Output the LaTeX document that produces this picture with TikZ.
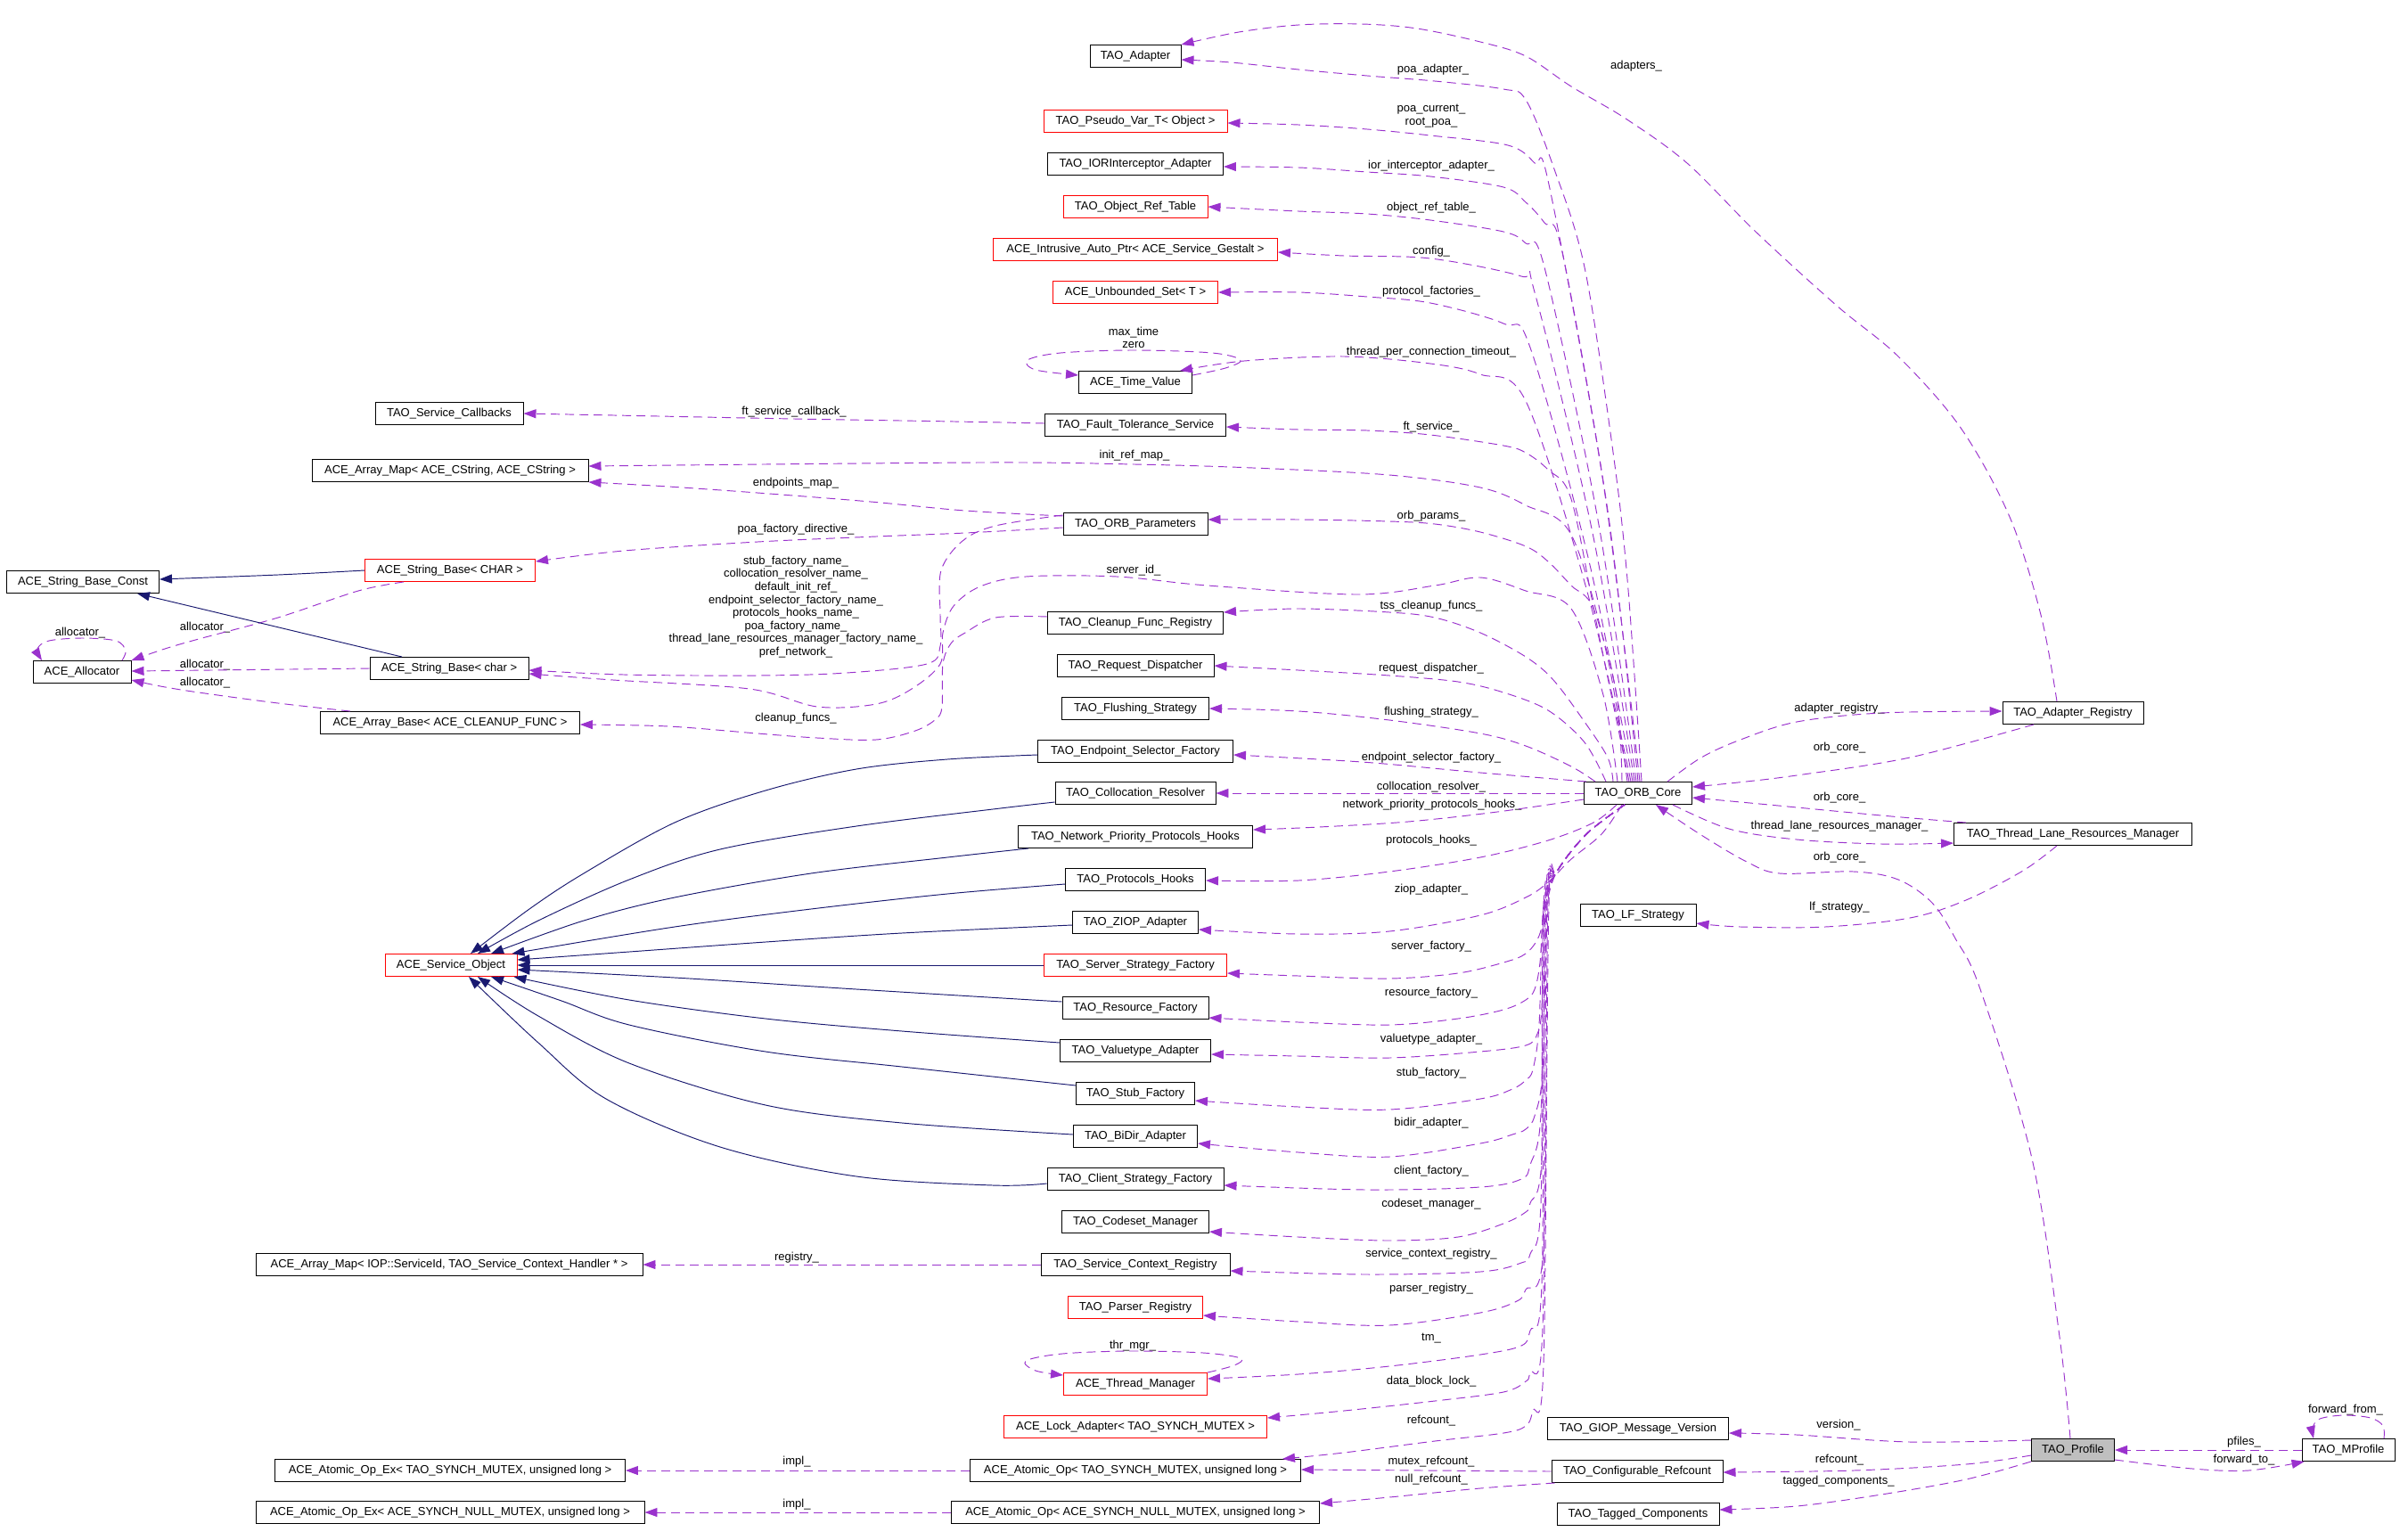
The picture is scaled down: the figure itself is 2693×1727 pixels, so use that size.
\documentclass[tikz,border=0pt]{standalone}
\usepackage{fontspec}
\setmainfont{Liberation Sans}
\usetikzlibrary{arrows.meta}
\definecolor{purp}{HTML}{9A32CD}
\definecolor{navyb}{HTML}{191970}
\definecolor{profgray}{HTML}{BFBFBF}
\newcommand\lblfont{\fontsize{13}{14.6}\selectfont}
\begin{document}
\begin{tikzpicture}[x=1pt,y=-1pt,
  cls/.style={draw=black, line width=0.95pt, fill=white, minimum height=25pt, inner sep=2pt, font=\lblfont},
  rcls/.style={cls, draw=red},
  lab/.style={font=\lblfont, inner sep=0pt, align=center},
  rel/.style={draw=purp, line width=0.95pt, dash pattern=on 10pt off 6pt, -{Triangle[length=14pt,width=10pt]}},
  inh/.style={draw=navyb, line width=0.95pt, -{Triangle[length=14pt,width=10pt]}},
  sm/.style={smooth, tension=0.55}]
\fill[white] (0,0) rectangle (2693,1727);
\useasboundingbox (0,0) rectangle (2693,1727);

% ---------------- nodes
\node[cls, minimum width=102pt] (adapter) at (1274,63) {TAO\_Adapter};
\node[rcls, minimum width=206pt] (pseudo) at (1274,136) {TAO\_Pseudo\_Var\_T< Object >};
\node[cls, minimum width=197pt] (ior) at (1274,184) {TAO\_IORInterceptor\_Adapter};
\node[rcls, minimum width=162pt] (objref) at (1274,232) {TAO\_Object\_Ref\_Table};
\node[rcls, minimum width=319pt] (intrusive) at (1274,280) {ACE\_Intrusive\_Auto\_Ptr< ACE\_Service\_Gestalt >};
\node[rcls, minimum width=185pt] (unbounded) at (1274,328) {ACE\_Unbounded\_Set< T >};
\node[cls, minimum width=127pt] (timevalue) at (1274,429) {ACE\_Time\_Value};
\node[cls, minimum width=203pt] (ftservice) at (1274,477) {TAO\_Fault\_Tolerance\_Service};
\node[cls, minimum width=166pt] (callbacks) at (504,464) {TAO\_Service\_Callbacks};
\node[cls, minimum width=310pt] (arraymap1) at (505,528) {ACE\_Array\_Map< ACE\_CString, ACE\_CString >};
\node[cls, minimum width=162pt] (orbparams) at (1274,588) {TAO\_ORB\_Parameters};
\node[rcls, minimum width=191pt] (sbCHAR) at (505,640) {ACE\_String\_Base< CHAR >};
\node[cls, minimum width=171pt] (sbconst) at (93,653) {ACE\_String\_Base\_Const};
\node[cls, minimum width=110pt] (allocator) at (92,754) {ACE\_Allocator};
\node[cls, minimum width=178pt] (sbchar) at (504,750) {ACE\_String\_Base< char >};
\node[cls, minimum width=291pt] (arraybase) at (505,811) {ACE\_Array\_Base< ACE\_CLEANUP\_FUNC >};
\node[cls, minimum width=197pt] (cleanup) at (1274,699) {TAO\_Cleanup\_Func\_Registry};
\node[cls, minimum width=176pt] (reqdisp) at (1274,747) {TAO\_Request\_Dispatcher};
\node[cls, minimum width=165pt] (flushing) at (1274,795) {TAO\_Flushing\_Strategy};
\node[cls, minimum width=219pt] (endpoint) at (1274,843) {TAO\_Endpoint\_Selector\_Factory};
\node[cls, minimum width=180pt] (colloc) at (1274,890) {TAO\_Collocation\_Resolver};
\node[cls, minimum width=121pt] (core) at (1838,890) {TAO\_ORB\_Core};
\node[cls, minimum width=263pt] (netprio) at (1274,939) {TAO\_Network\_Priority\_Protocols\_Hooks};
\node[cls, minimum width=157pt] (prothooks) at (1274,987) {TAO\_Protocols\_Hooks};
\node[cls, minimum width=141pt] (ziop) at (1274,1035) {TAO\_ZIOP\_Adapter};
\node[rcls, minimum width=205pt] (serverstrat) at (1274,1083) {TAO\_Server\_Strategy\_Factory};
\node[cls, minimum width=164pt] (resource) at (1274,1131) {TAO\_Resource\_Factory};
\node[cls, minimum width=169pt] (valuetype) at (1274,1179) {TAO\_Valuetype\_Adapter};
\node[cls, minimum width=133pt] (stub) at (1274,1227) {TAO\_Stub\_Factory};
\node[cls, minimum width=139pt] (bidir) at (1274,1275) {TAO\_BiDir\_Adapter};
\node[cls, minimum width=198pt] (clientstrat) at (1274,1323) {TAO\_Client\_Strategy\_Factory};
\node[cls, minimum width=165pt] (codeset) at (1274,1371) {TAO\_Codeset\_Manager};
\node[cls, minimum width=212pt] (svcctx) at (1274,1419) {TAO\_Service\_Context\_Registry};
\node[cls, minimum width=434pt] (arraymap2) at (504,1419) {ACE\_Array\_Map< IOP::ServiceId, TAO\_Service\_Context\_Handler * >};
\node[rcls, minimum width=151pt] (parser) at (1274,1467) {TAO\_Parser\_Registry};
\node[rcls, minimum width=161pt] (thrmgr) at (1274,1553) {ACE\_Thread\_Manager};
\node[rcls, minimum width=295pt] (lockadapter) at (1274,1601) {ACE\_Lock\_Adapter< TAO\_SYNCH\_MUTEX >};
\node[cls, minimum width=371pt] (atomicTAO) at (1274,1650) {ACE\_Atomic\_Op< TAO\_SYNCH\_MUTEX, unsigned long >};
\node[cls, minimum width=413pt] (atomicNULL) at (1274,1697) {ACE\_Atomic\_Op< ACE\_SYNCH\_NULL\_MUTEX, unsigned long >};
\node[cls, minimum width=393pt] (atomicexTAO) at (505,1650) {ACE\_Atomic\_Op\_Ex< TAO\_SYNCH\_MUTEX, unsigned long >};
\node[cls, minimum width=436pt] (atomicexNULL) at (505,1697) {ACE\_Atomic\_Op\_Ex< ACE\_SYNCH\_NULL\_MUTEX, unsigned long >};
\node[rcls, minimum width=148pt] (serviceobj) at (506,1083) {ACE\_Service\_Object};
\node[cls, minimum width=158pt] (adapterreg) at (2326,800) {TAO\_Adapter\_Registry};
\node[cls, minimum width=267pt] (tlrm) at (2326,936) {TAO\_Thread\_Lane\_Resources\_Manager};
\node[cls, minimum width=130pt] (lfstrategy) at (1838,1027) {TAO\_LF\_Strategy};
\node[cls, minimum width=203pt] (giop) at (1838,1603) {TAO\_GIOP\_Message\_Version};
\node[cls, minimum width=192pt] (confrefcount) at (1837,1651) {TAO\_Configurable\_Refcount};
\node[cls, minimum width=182pt] (tagged) at (1838,1699) {TAO\_Tagged\_Components};
\node[cls, fill=profgray, minimum width=93pt] (profile) at (2326,1627) {TAO\_Profile};
\node[cls, minimum width=104pt] (mprofile) at (2635,1627) {TAO\_MProfile};

% ---------------- labels
\node[lab] (Lpoaad) at (1608,78) {poa\_adapter\_};
\node[lab] (Ladapters) at (1836,74) {adapters\_};
\node[lab] (Lpoacur) at (1606,130) {poa\_current\_\\root\_poa\_};
\node[lab] (Lior) at (1606,186) {ior\_interceptor\_adapter\_};
\node[lab] (Lobjref) at (1606,233) {object\_ref\_table\_};
\node[lab] (Lconfig) at (1606,282) {config\_};
\node[lab] (Lprotfac) at (1606,327) {protocol\_factories\_};
\node[lab] (Lmaxtime) at (1272,379) {max\_time\\zero};
\node[lab] (Ltpct) at (1606,395) {thread\_per\_connection\_timeout\_};
\node[lab] (Lftsvc) at (1606,479) {ft\_service\_};
\node[lab] (Lftcb) at (891,462) {ft\_service\_callback\_};
\node[lab] (Linitref) at (1273,511) {init\_ref\_map\_};
\node[lab] (Lendmap) at (893,542) {endpoints\_map\_};
\node[lab] (Lorbparams) at (1606,579) {orb\_params\_};
\node[lab] (Lpoafd) at (893,594) {poa\_factory\_directive\_};
\node[lab] (Lnames) at (893,681) {stub\_factory\_name\_\\collocation\_resolver\_name\_\\default\_init\_ref\_\\endpoint\_selector\_factory\_name\_\\protocols\_hooks\_name\_\\poa\_factory\_name\_\\thread\_lane\_resources\_manager\_factory\_name\_\\pref\_network\_};
\node[lab] (Lserverid) at (1272,640) {server\_id\_};
\node[lab] (Ltss) at (1606,680) {tss\_cleanup\_funcs\_};
\node[lab] (Lalloc0) at (90,710) {allocator\_};
\node[lab] (Lalloc1) at (230,704) {allocator\_};
\node[lab] (Lalloc2) at (230,746) {allocator\_};
\node[lab] (Lalloc3) at (230,766) {allocator\_};
\node[lab] (Lreqd) at (1606,750) {request\_dispatcher\_};
\node[lab] (Lflush) at (1606,799) {flushing\_strategy\_};
\node[lab] (Lcleanup) at (893,806) {cleanup\_funcs\_};
\node[lab] (Lendsel) at (1606,850) {endpoint\_selector\_factory\_};
\node[lab] (Lcolloc) at (1606,883) {collocation\_resolver\_};
\node[lab] (Lnetprio) at (1607,903) {network\_priority\_protocols\_hooks\_};
\node[lab] (Lprothooks) at (1606,943) {protocols\_hooks\_};
\node[lab] (Lziop) at (1606,998) {ziop\_adapter\_};
\node[lab] (Lserverf) at (1606,1062) {server\_factory\_};
\node[lab] (Lresf) at (1606,1114) {resource\_factory\_};
\node[lab] (Lvalue) at (1606,1166) {valuetype\_adapter\_};
\node[lab] (Lstubf) at (1606,1204) {stub\_factory\_};
\node[lab] (Lbidir) at (1606,1260) {bidir\_adapter\_};
\node[lab] (Lclientf) at (1606,1314) {client\_factory\_};
\node[lab] (Lcodeset) at (1606,1351) {codeset\_manager\_};
\node[lab] (Lsvcctx) at (1606,1407) {service\_context\_registry\_};
\node[lab] (Lregistry) at (894,1411) {registry\_};
\node[lab] (Lparser) at (1606,1446) {parser\_registry\_};
\node[lab] (Ltm) at (1606,1502) {tm\_};
\node[lab] (Lthrmgr) at (1271,1510) {thr\_mgr\_};
\node[lab] (Ldbl) at (1606,1550) {data\_block\_lock\_};
\node[lab] (Lrefcount) at (1606,1594) {refcount\_};
\node[lab] (Lmutexrc) at (1606,1640) {mutex\_refcount\_};
\node[lab] (Lnullrc) at (1606,1660) {null\_refcount\_};
\node[lab] (Limpl1) at (894,1640) {impl\_};
\node[lab] (Limpl2) at (894,1688) {impl\_};
\node[lab] (Ladreg) at (2064,795) {adapter\_registry\_};
\node[lab] (Lorbcore1) at (2064,839) {orb\_core\_};
\node[lab] (Lorbcore2) at (2064,895) {orb\_core\_};
\node[lab] (Ltlrm) at (2064,927) {thread\_lane\_resources\_manager\_};
\node[lab] (Lorbcore3) at (2064,962) {orb\_core\_};
\node[lab] (Llfs) at (2064,1018) {lf\_strategy\_};
\node[lab] (Lversion) at (2063,1599) {version\_};
\node[lab] (Lrefcount2) at (2064,1638) {refcount\_};
\node[lab] (Ltagged) at (2063,1662) {tagged\_components\_};
\node[lab] (Lpfiles) at (2518,1618) {pfiles\_};
\node[lab] (Lfwdto) at (2518,1638) {forward\_to\_};
\node[lab] (Lfwdfrom) at (2632,1582) {forward\_from\_};

% ---------------- upper fan from TAO_ORB_Core
\draw[rel] plot[sm] coordinates {([xshift=4]core.north) (1826,650) (1809,500) (1778,300) (1743,187) (1712,112) (1687,100) (1610,91) (1534,85) (1457,78) (1381,70) ([yshift=-4]adapter.east)};
\draw[rel] plot[sm] coordinates {([xshift=2]core.north) (1799,542) (1738,207) (1722,183) (1692,163) (1605,152) (1534,145) (1457,140) ([yshift=-2]pseudo.east)};
\draw[rel] plot[sm] coordinates {(core.north) (1805,580) (1753,283) (1733,250) (1712,227) (1687,210) (1605,198) (1534,193) (1457,188) ([yshift=-3]ior.east)};
\draw[rel] plot[sm] coordinates {([xshift=-2]core.north) (1794,589) (1733,300) (1712,273) (1687,260) (1605,247) (1534,240) (1457,237) (objref.east)};
\draw[rel] plot[sm] coordinates {([xshift=-4]core.north) (1788,603) (1722,328) (1707,310) (1605,290) (1508,287) ([yshift=-3]intrusive.east)};
\draw[rel] plot[sm] coordinates {([xshift=-6]core.north) (1784,634) (1717,390) (1687,363) (1605,340) (1534,333) (1457,328) (unbounded.east)};
\draw[rel] plot[sm] coordinates {([xshift=-8]core.north) (1781,664) (1712,450) (1661,420) (1605,408) (1508,400) (1396,405) ([xshift=50]timevalue.north)};
\draw[rel] plot[sm] coordinates {([xshift=-10]core.north) (1792,702) (1763,560) (1737,527) (1712,508) (1687,500) (1605,488) (1534,483) (1457,482) ([yshift=-2]ftservice.east)};
\draw[rel] plot[sm] coordinates {([xshift=-12]core.north) (1804,739) (1763,600) (1712,567) (1661,547) (1559,533) (1406,525) (1273,521) (1100,519) ([yshift=5]arraymap1.east)};
\draw[rel] plot[sm] coordinates {([xshift=-18]core.north) (1814,780) (1788,683) (1763,657) (1737,630) (1712,613) (1661,597) (1610,588) (1559,585) (1457,583) ([yshift=5]orbparams.east)};
\draw[rel] plot[sm] coordinates {([xshift=-23]core.north) (1799,780) (1763,683) (1712,663) (1661,648) (1610,657) (1523,667) (1355,657) (1253,647) (1151,647) (1100,658) (1070,680) (1058,710) (1055,745) (1023,773) (983,790) (917,793) (841,773) (688,763) ([yshift=-6]sbchar.east)};
\draw[rel] plot[sm] coordinates {([xshift=-28]core.north) (1804,850) (1778,810) (1743,763) (1712,737) (1661,710) (1610,693) (1559,687) (1457,683) ([yshift=12]cleanup.east)};
\draw[rel] plot[sm] coordinates {([xshift=-36]core.north) (1778,833) (1737,797) (1687,777) (1636,765) (1559,758) (1457,752) (reqdisp.east)};
\draw[rel] plot[sm] coordinates {([xshift=-48]core.north) (1763,860) (1712,837) (1661,823) (1559,808) (1457,798) (flushing.east)};
\draw[rel] plot[sm] coordinates {([xshift=-58]core.north) (1661,867) (1528,855) ([yshift=-4]endpoint.east)};
\draw[rel] (core.west) -- (colloc.east);

% ---------------- lower fan from TAO_ORB_Core
\draw[rel] plot[sm] coordinates {([yshift=-7]core.west) (1680,911) (1580,922) (1480,928) ([yshift=8]netprio.east)};
\draw[rel] plot[sm] coordinates {([xshift=-24]core.south) (1788,923) (1737,943) (1661,962) (1559,978) (1457,988) ([yshift=-1]prothooks.east)};
\draw[rel] plot[sm] coordinates {([xshift=-18]core.south) (1797,936) (1763,964) (1737,990) (1712,1007) (1661,1027) (1559,1045) (1457,1048) ([yshift=-8]ziop.east)};
\draw[rel] plot[sm] coordinates {([xshift=-15]core.south) (1780,936) (1747,978) (1735,1015) (1727,1050) (1712,1070) (1687,1080) (1636,1092) (1559,1098) (1457,1095) ([yshift=-9]serverstrat.east)};
\draw[rel] plot[sm] coordinates {([xshift=-15]core.south) (1780,936) (1747,978) (1733,1015) (1728,1080) (1722,1110) (1712,1122) (1687,1133) (1636,1143) (1559,1150) (1457,1147) ([yshift=-11]resource.east)};
\draw[rel] plot[sm] coordinates {([xshift=-15]core.south) (1780,936) (1747,978) (1734,1015) (1730,1130) (1725,1160) (1712,1173) (1661,1180) (1559,1187) (1457,1185) ([yshift=-4]valuetype.east)};
\draw[rel] plot[sm] coordinates {([xshift=-15]core.south) (1780,936) (1747,978) (1732,1015) (1727,1150) (1720,1200) (1712,1212) (1697,1222) (1661,1233) (1559,1245) (1457,1242) ([yshift=-8]stub.east)};
\draw[rel] plot[sm] coordinates {([xshift=-15]core.south) (1780,936) (1747,978) (1736,1015) (1731,1200) (1722,1252) (1712,1267) (1697,1273) (1661,1283) (1559,1298) (1457,1293) ([yshift=-8]bidir.east)};
\draw[rel] plot[sm] coordinates {([xshift=-15]core.south) (1780,936) (1747,978) (1733,1015) (1729,1250) (1717,1307) (1707,1323) (1661,1332) (1534,1335) ([yshift=-7]clientstrat.east)};
\draw[rel] plot[sm] coordinates {([xshift=-15]core.south) (1780,936) (1747,978) (1735,1015) (1730,1300) (1717,1350) (1712,1360) (1687,1373) (1636,1388) (1559,1392) (1457,1388) ([yshift=-11]codeset.east)};
\draw[rel] plot[sm] coordinates {([xshift=-15]core.south) (1780,936) (1747,978) (1732,1015) (1729,1350) (1717,1407) (1707,1417) (1661,1427) (1534,1430) ([yshift=-7]svcctx.east)};
\draw[rel] plot[sm] coordinates {([xshift=-15]core.south) (1780,936) (1747,978) (1737,1015) (1732,1400) (1712,1447) (1702,1460) (1661,1473) (1559,1487) (1457,1483) ([yshift=-9]parser.east)};
\draw[rel] plot[sm] coordinates {([xshift=-15]core.south) (1780,936) (1747,978) (1734,1015) (1730,1440) (1717,1493) (1707,1510) (1661,1520) (1559,1533) (1457,1542) ([yshift=6]thrmgr.east)};
\draw[rel] plot[sm] coordinates {([xshift=-15]core.south) (1780,936) (1747,978) (1736,1015) (1731,1490) (1717,1540) (1712,1550) (1687,1562) (1610,1572) (1508,1583) ([yshift=10]lockadapter.east)};
\draw[rel] plot[sm] coordinates {([xshift=-15]core.south) (1780,936) (1747,978) (1738,1015) (1732,1530) (1720,1583) (1712,1600) (1687,1608) (1610,1617) (1508,1630) ([xshift=165]atomicTAO.north)};

% ---------------- self loops
\draw[rel] plot[sm] coordinates {([yshift=8]timevalue.east) (1375,413) (1392,404) (1360,396) (1272,393) (1190,396) (1153,404) (1162,415) ([yshift=8]timevalue.west)};
\draw[rel] plot[sm] coordinates {(thrmgr.north east) (1385,1532) (1392,1524) (1350,1518) (1268,1516) (1192,1519) (1151,1527) (1162,1538) ([yshift=10]thrmgr.west)};
\draw[rel] plot[sm] coordinates {([xshift=45]allocator.north) (141,730) (130,719) (92,716) (55,719) (42,728) ([xshift=-45]allocator.north)};
\draw[rel] plot[sm] coordinates {([xshift=40]mprofile.north) (2674,1600) (2660,1591) (2630,1588) (2603,1592) (2595,1602) ([xshift=-39]mprofile.north)};

% ---------------- left side collaboration
\draw[rel] plot[sm] coordinates {([yshift=2]ftservice.west) (1071,473) (891,470) (689,466) (callbacks.east)};
\draw[rel] plot[sm] coordinates {([yshift=9]orbparams.west) (1083,573) (977,563) (850,553) (750,546) (arraymap1.south east)};
\draw[rel] plot[sm] coordinates {([yshift=-4]orbparams.west) (1083,598) (983,602) (850,608) (700,618) ([yshift=-3]sbCHAR.north east)};
\draw[rel] plot[sm] coordinates {([yshift=10]orbparams.west) (1117,590) (1080,607) (1056,640) (1055,690) (1055,725) (1040,745) (950,755) (850,758) (700,757) ([yshift=-2]sbchar.east)};
\draw[rel] plot[sm] coordinates {([yshift=7]cleanup.west) (1117,693) (1083,710) (1067,722) (1058,745) (1057,793) (1050,807) (1027,820) (983,830) (917,828) (850,823) (750,815) ([yshift=-2]arraybase.east)};
\draw[rel] (svcctx.west) -- (arraymap2.east);
\draw[rel] (atomicTAO.west) -- (atomicexTAO.east);
\draw[rel] (atomicNULL.west) -- (atomicexNULL.east);
\draw[rel] plot[sm] coordinates {([xshift=-52]sbCHAR.south) (402,663) (312,693) (223,717) (185,728) (allocator.north east)};
\draw[rel] (sbchar.west) -- ([yshift=1]allocator.east);
\draw[rel] plot[sm] coordinates {([xshift=-112]arraybase.north) (312,789) (223,777) (180,770) ([yshift=-9]allocator.east)};

% ---------------- inheritance
\draw[inh] plot[sm] coordinates {(sbCHAR.west) (312,645) ([yshift=3]sbconst.east)};
\draw[inh] ([xshift=-53]sbchar.north) -- ([xshift=61]sbconst.south);
\draw[inh] plot[sm] coordinates {([yshift=-4]endpoint.west) (1063,852) (961,863) (859,887) (757,923) (655,980) (594,1020) ([xshift=22]serviceobj.north)};
\draw[inh] plot[sm] coordinates {([yshift=-10]colloc.west) (1114,908) (961,927) (808,953) (706,987) (604,1033) ([xshift=30]serviceobj.north)};
\draw[inh] plot[sm] coordinates {([xshift=12]netprio.south west) (1063,962) (910,980) (757,1007) (655,1033) ([xshift=45]serviceobj.north)};
\draw[inh] plot[sm] coordinates {([yshift=-5]prothooks.west) (1063,1003) (910,1020) (757,1040) ([xshift=-6]serviceobj.north east)};
\draw[inh] plot[sm] coordinates {([yshift=-3]ziop.west) (1012,1047) (859,1057) (706,1068) ([yshift=6]serviceobj.east)};
\draw[inh] (serverstrat.west) -- (serviceobj.east);
\draw[inh] plot[sm] coordinates {([yshift=7]resource.west) (961,1110) (757,1097) ([yshift=-5]serviceobj.east)};
\draw[inh] plot[sm] coordinates {([yshift=9]valuetype.west) (1012,1157) (859,1143) (706,1122) ([xshift=-4]serviceobj.south east)};
\draw[inh] plot[sm] coordinates {([yshift=9]stub.west) (1012,1197) (859,1180) (706,1150) (630,1123) ([xshift=45]serviceobj.south)};
\draw[inh] plot[sm] coordinates {([yshift=2]bidir.west) (1012,1260) (859,1240) (706,1193) (604,1140) ([xshift=30]serviceobj.south)};
\draw[inh] plot[sm] coordinates {([yshift=-5]clientstrat.west) (1114,1330) (961,1320) (808,1287) (680,1233) (604,1170) ([xshift=20]serviceobj.south)};

% ---------------- right side
\draw[rel] plot[sm] coordinates {([xshift=33]core.north) (1909,850) (1953,830) (2016,810) (2111,800) ([yshift=2]adapterreg.west)};
\draw[rel] plot[sm] coordinates {([xshift=-44]adapterreg.south) (2143,850) (2016,870) (1950,878) ([yshift=7]core.east)};
\draw[rel] plot[sm] coordinates {([xshift=-120]tlrm.north) (2111,915) (1985,903) ([yshift=-5]core.east)};
\draw[rel] plot[sm] coordinates {([xshift=39]core.south) (1940,930) (2016,942) (2111,947) ([yshift=-10]tlrm.west)};
\draw[rel] plot[sm] coordinates {([xshift=-3]profile.north) (2311,1500) (2280,1300) (2222,1110) (2194,1053) (2168,1013) (2130,987) (2080,978) (1997,980) (1960,967) (1909,937) ([xshift=20]core.south)};
\draw[rel] plot[sm] coordinates {([xshift=-18]tlrm.south) (2270,977) (2206,1010) (2143,1030) (2048,1040) (1953,1040) ([yshift=-9]lfstrategy.east)};
\draw[rel] plot[sm] coordinates {([xshift=-18]adapterreg.north) (2290,690) (2255,580) (2200,480) (2130,400) (2061,343) (1970,260) (1893,183) (1824,133) (1763,97) (1712,63) (1661,47) (1590,32) (1528,27) (1457,28) (1390,36) (adapter.north east)};

% ---------------- bottom right
\draw[rel] plot[sm] coordinates {([yshift=11]profile.west) (2143,1618) (2016,1610) ([yshift=-5]giop.east)};
\draw[rel] plot[sm] coordinates {([yshift=-6]profile.west) (2206,1643) (2080,1650) ([yshift=-1]confrefcount.east)};
\draw[rel] plot[sm] coordinates {(profile.south west) (2206,1660) (2111,1677) (2016,1690) ([yshift=5]tagged.east)};
\draw[rel] (mprofile.west) -- (profile.east);
\draw[rel] plot[sm] coordinates {([yshift=-11]profile.east) (2460,1648) (2523,1650) ([xshift=3]mprofile.south west)};
\draw[rel] (confrefcount.west) -- ([yshift=1]atomicTAO.east);
\draw[rel] plot[sm] coordinates {([xshift=4]confrefcount.south west) (1661,1670) (1559,1680) ([yshift=10]atomicNULL.east)};
\end{tikzpicture}
\end{document}
